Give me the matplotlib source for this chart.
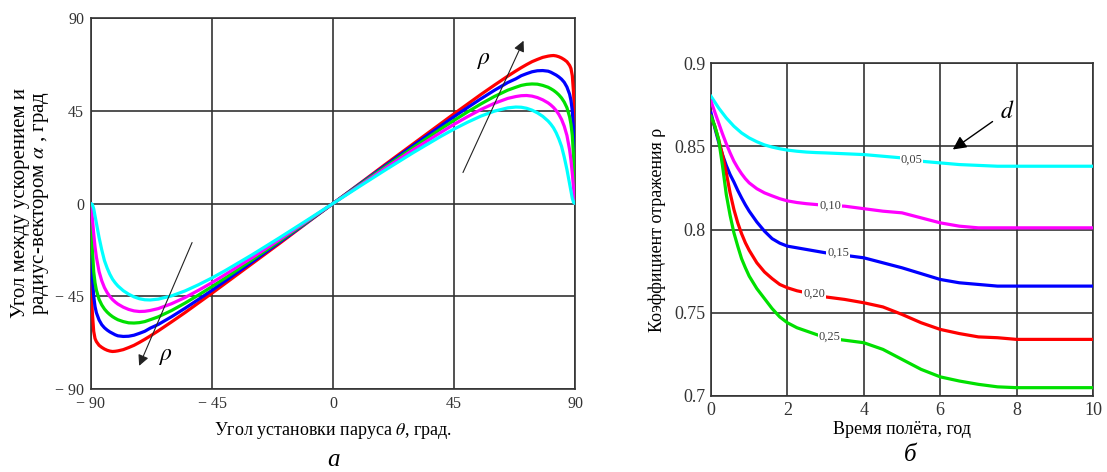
import matplotlib
matplotlib.use("Agg")
import matplotlib.pyplot as plt

plt.rcParams['font.family'] = ['Liberation Serif', 'DejaVu Serif']
plt.rcParams['mathtext.fontset'] = 'stix'

# ---------- panel a: alpha(theta) for five reflectivities ----------
theta_pos = [0, 10, 20, 30, 40, 45, 50, 55, 60, 65, 68, 70, 72, 74, 76, 78, 80, 81, 82, 83, 84, 85, 86, 87, 88, 88.5, 89, 89.5, 90]
alpha_red = [0, 9.7, 19.5, 29.1, 38.7, 43.5, 48.2, 52.9, 57.4, 61.8, 64.3, 65.9, 67.4, 68.8, 69.9, 70.9, 71.5, 71.7, 71.8, 71.6, 71.2, 70.6, 69.8, 68.8, 67.0, 65.5, 62.0, 53.0, 38.5]
alpha_blue = [0, 9.5, 18.9, 28.3, 37.5, 42.1, 46.5, 50.8, 54.9, 58.7, 60.5, 62.0, 63.0, 63.9, 64.4, 64.5, 64.2, 63.7, 63.0, 62.3, 61.4, 60.3, 58.8, 56.5, 53.0, 50.0, 45.0, 35.0, 11.0]
alpha_green = [0, 9.2, 18.3, 27.3, 36.1, 40.3, 44.4, 48.3, 51.9, 55.0, 56.4, 57.3, 57.8, 58.0, 57.9, 57.3, 56.4, 55.7, 54.9, 53.9, 52.7, 51.2, 49.2, 46.5, 42.0, 38.5, 33.0, 22.0, 2.0]
alpha_magenta = [0, 8.8, 17.6, 26.2, 34.4, 38.4, 42.1, 45.6, 48.6, 51.0, 51.9, 52.3, 52.4, 52.1, 51.4, 50.3, 48.8, 47.8, 46.6, 45.1, 43.2, 40.8, 37.5, 33.0, 26.0, 21.0, 14.5, 7.0, 0.0]
alpha_cyan = [0, 8.4, 16.7, 24.8, 32.5, 36.1, 39.4, 42.4, 44.8, 46.4, 46.8, 46.7, 46.2, 45.3, 44.0, 42.3, 40.0, 38.5, 36.7, 34.3, 31.3, 27.7, 22.5, 16.5, 9.5, 6.0, 2.5, 0.5, 0.0]

theta_full = [-t for t in theta_pos[::-1]] + theta_pos[1:]
def full(a):
    return [-v for v in a[::-1]] + a[1:]

curves_a = [
    (alpha_red, '#ff0000'),
    (alpha_blue, '#0000ff'),
    (alpha_green, '#00e000'),
    (alpha_magenta, '#ff00ff'),
    (alpha_cyan, '#00ffff'),
]
ticks_a = [-90, -45, 0, 45, 90]
ticklabels_a = ['\u2212 90', '\u2212 45', '0', '45', '90']

# ---------- panel b: rho(t) for five d values ----------
t_years = [0, 0.1, 0.2, 0.3, 0.4, 0.5, 0.6, 0.7, 0.8, 0.9, 1.0, 1.2, 1.4, 1.6, 1.8, 2.0, 2.25, 2.5, 2.75, 3,
           3.5, 4, 4.5, 5, 5.5, 6, 6.5, 7, 7.5, 8, 9, 10]
rho_005 = [0.880, 0.8765, 0.873, 0.870, 0.867, 0.8645, 0.862, 0.860, 0.858, 0.8565, 0.855, 0.8527, 0.8508, 0.8495, 0.8485, 0.8477, 0.847, 0.8465, 0.8462, 0.846,
           0.8455, 0.845, 0.844, 0.843, 0.841, 0.840, 0.839, 0.8385, 0.838, 0.838, 0.838, 0.838]
rho_010 = [0.877, 0.8705, 0.864, 0.8575, 0.8515, 0.846, 0.841, 0.837, 0.8335, 0.8305, 0.828, 0.8245, 0.822, 0.8202, 0.8185, 0.8172, 0.8162, 0.8155, 0.815, 0.8145,
           0.814, 0.8125, 0.811, 0.810, 0.807, 0.804, 0.802, 0.801, 0.801, 0.801, 0.801, 0.801]
rho_015 = [0.870, 0.861, 0.8525, 0.845, 0.8385, 0.833, 0.8285, 0.8235, 0.819, 0.8148, 0.811, 0.8045, 0.799, 0.7945, 0.7918, 0.790, 0.789, 0.788, 0.787, 0.786,
           0.7845, 0.783, 0.780, 0.777, 0.7735, 0.770, 0.768, 0.767, 0.766, 0.766, 0.766, 0.766]
rho_020 = [0.868, 0.862, 0.854, 0.845, 0.834, 0.822, 0.812, 0.804, 0.7975, 0.792, 0.7875, 0.780, 0.7745, 0.7705, 0.767, 0.765, 0.7632, 0.762, 0.7605, 0.7595,
           0.758, 0.756, 0.7535, 0.749, 0.744, 0.740, 0.7375, 0.7355, 0.735, 0.734, 0.734, 0.734]
rho_025 = [0.868, 0.862, 0.854, 0.8385, 0.821, 0.8085, 0.798, 0.790, 0.7825, 0.777, 0.772, 0.7645, 0.7585, 0.7525, 0.7475, 0.744, 0.741, 0.739, 0.737, 0.735,
           0.7335, 0.732, 0.728, 0.722, 0.716, 0.7115, 0.709, 0.707, 0.7055, 0.705, 0.705, 0.705]
d_labels = ['0,05', '0,10', '0,15', '0,20', '0,25']
label_t = [5.25, 3.12, 3.33, 2.7, 3.1]
label_rho = [0.842, 0.8145, 0.786, 0.7617, 0.7356]
curves_b = [
    (rho_005, '#00ffff'),
    (rho_010, '#ff00ff'),
    (rho_015, '#0000ff'),
    (rho_020, '#ff0000'),
    (rho_025, '#00e000'),
]

fig = plt.figure(figsize=(11.07, 4.72), dpi=100)
grid_kw = dict(color='#333333', linewidth=1.2)
tick_color = '#333333'

# ---------- left axes ----------
ax1 = fig.add_axes([91 / 1107, 1 - 389 / 472, 484 / 1107, 371 / 472])
for a, c in curves_a:
    ax1.plot(theta_full, full(a), color=c, linewidth=2.3, solid_capstyle='round', zorder=3)
ax1.set_xlim(-90, 90)
ax1.set_ylim(-90, 90)
ax1.set_xticks(ticks_a)
ax1.set_yticks(ticks_a)
ax1.set_xticklabels(ticklabels_a, fontsize=11.5, color=tick_color)
ax1.set_yticklabels(ticklabels_a, fontsize=11.5, color=tick_color)
ax1.tick_params(length=0, pad=5)
ax1.grid(True, **grid_kw)
for s in ax1.spines.values():
    s.set_color('#333333')
    s.set_linewidth(1.2)
ax1.set_xlabel('Угол установки паруса $\\theta$, град.', fontsize=13, labelpad=6)
ax1.set_ylabel('Угол между ускорением и\nрадиус-вектором $\\alpha$ , град', fontsize=15,
               linespacing=1.0, labelpad=3)
ax1.annotate('', xy=(71.3, 80.2), xytext=(47.9, 13.8),
             arrowprops=dict(arrowstyle='-|>', color='#222222', lw=0.8, mutation_scale=16), zorder=5)
ax1.annotate('', xy=(-72.5, -80), xytext=(-52, -17.7),
             arrowprops=dict(arrowstyle='-|>', color='#222222', lw=0.8, mutation_scale=16), zorder=5)
ax1.text(56.3, 69.6, '$\\rho$', fontsize=17, ha='center', va='center')
ax1.text(-62, -74.3, '$\\rho$', fontsize=17, ha='center', va='center')
fig.text(333 / 1107, 1 - 460 / 472, 'а', fontsize=18, style='italic', ha='center', va='center')

# ---------- right axes ----------
ax2 = fig.add_axes([711 / 1107, 1 - 396 / 472, 382 / 1107, 333 / 472])
for (r, c), lab, lt, lr in zip(curves_b, d_labels, label_t, label_rho):
    ax2.plot(t_years, r, color=c, linewidth=2.3, zorder=3)
    ax2.text(lt, lr, lab, fontsize=9, color='#404040', ha='center', va='center', zorder=4,
             bbox=dict(facecolor='white', edgecolor='none', pad=0.6))
ax2.set_xlim(0, 10)
ax2.set_ylim(0.7, 0.9)
ax2.set_xticks([0, 2, 4, 6, 8, 10])
ax2.set_yticks([0.7, 0.75, 0.8, 0.85, 0.9])
ax2.set_xticklabels(['0', '2', '4', '6', '8', '10'], fontsize=13, color=tick_color)
ax2.set_yticklabels(['0.7', '0.75', '0.8', '0.85', '0.9'], fontsize=13, color=tick_color)
ax2.tick_params(length=0, pad=4)
ax2.grid(True, **grid_kw)
for s in ax2.spines.values():
    s.set_color('#333333')
    s.set_linewidth(1.2)
ax2.set_xlabel('Время полёта, год', fontsize=13, labelpad=2)
ax2.set_ylabel('Коэффициент отражения ρ', fontsize=13, labelpad=6)
ax2.annotate('', xy=(6.27, 0.8471), xytext=(7.43, 0.8658),
             arrowprops=dict(arrowstyle='-|>', color='black', lw=1.0, mutation_scale=20), zorder=5)
ax2.text(7.75, 0.8705, '$d$', fontsize=17, ha='center', va='center')
fig.text(910 / 1107, 1 - 455 / 472, 'б', fontsize=18, style='italic', ha='center', va='center')

fig.savefig('out.png', dpi=100)
